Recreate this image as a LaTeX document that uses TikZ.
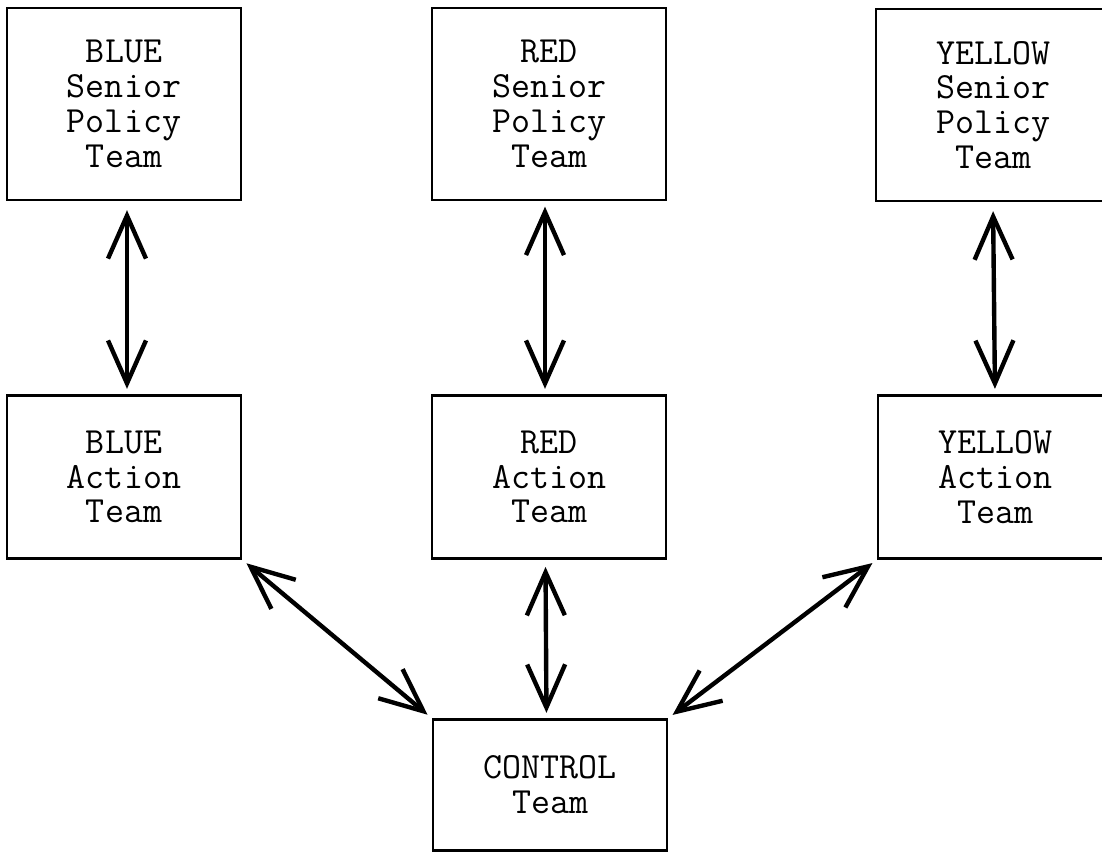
\documentclass[tikz,border=0pt]{standalone}
\usetikzlibrary{arrows.meta}
\begin{document}
\begin{tikzpicture}[x=0.02cm,y=-0.02cm,
    team/.style={draw,line width=1.6pt,minimum width=4.68cm,align=center,
        font=\ttfamily\fontsize{21}{19.8}\selectfont},
    senior/.style={team,minimum height=3.84cm},
    action/.style={team,minimum height=3.26cm},
    link/.style={line width=2.5pt,line cap=round,
        {Straight Barb[length=0.86cm,width=0.76cm]}-{Straight Barb[length=0.86cm,width=0.76cm]}}]
    \clip (0,0) rectangle (1102,852);
    \fill[white] (0,0) rectangle (1102,852);
    % top row
    \node[senior] (bsp) at (124,104) {BLUE\\Senior\\Policy\\Team};
    \node[senior] (rsp) at (549,104) {RED\\Senior\\Policy\\Team};
    \node[senior] (ysp) at (993,105) {YELLOW\\Senior\\Policy\\Team};
    % middle row
    \node[action] (bat) at (124,477) {BLUE\\Action\\Team};
    \node[action] (rat) at (549,477) {RED\\Action\\Team};
    \node[action] (yat) at (995,477) {YELLOW\\Action\\Team};
    % bottom
    \node[team,minimum height=2.62cm] (ctl) at (550,785) {CONTROL\\Team};
    \draw[link,shorten <=5pt,shorten >=3pt] ([xshift=0.06cm]bsp.south) -- ([xshift=0.06cm]bat.north);
    \draw[link,shorten <=3pt,shorten >=3pt] ([xshift=-0.08cm]rsp.south) -- ([xshift=-0.08cm]rat.north);
    \draw[link,shorten <=5pt,shorten >=3pt] (ysp.south) -- (yat.north);
    \draw[link,shorten <=3pt,shorten >=3pt] (bat.south east) -- (ctl.north west);
    \draw[link,shorten <=4pt,shorten >=3pt] ([xshift=-2pt]rat.south) -- ([xshift=-2pt]ctl.north);
    \draw[link,shorten <=3pt,shorten >=3pt] (yat.south west) -- (ctl.north east);
\end{tikzpicture}
\end{document}
